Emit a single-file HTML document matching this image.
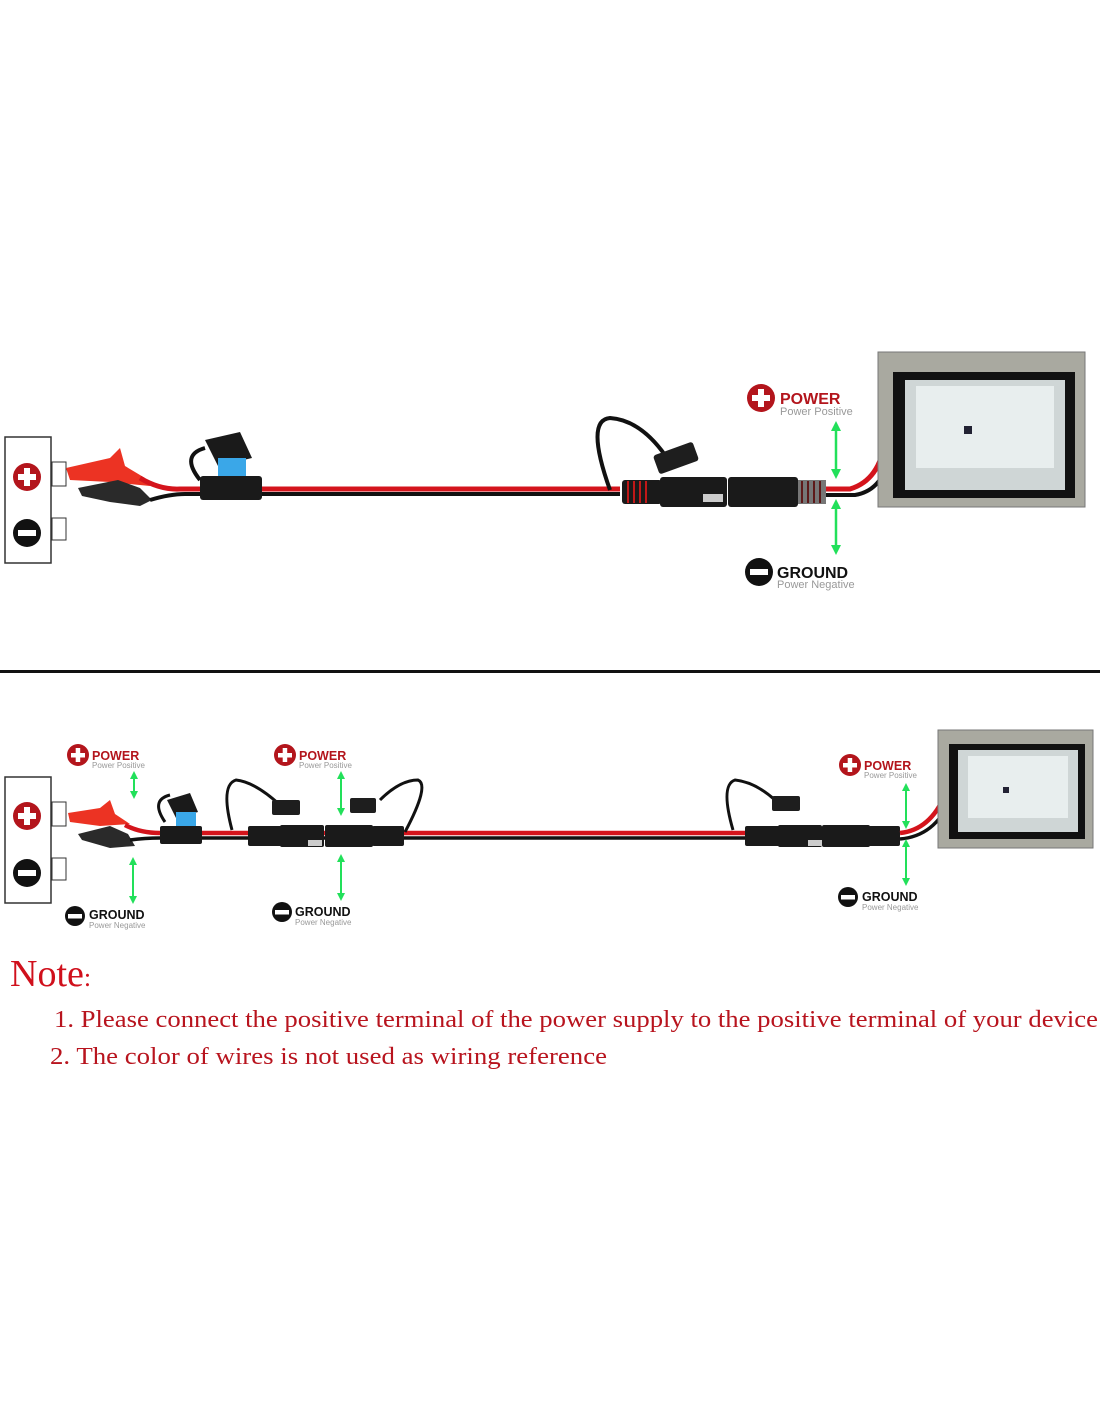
<!DOCTYPE html>
<html><head><meta charset="utf-8"><style>
html,body{margin:0;padding:0;background:#fff}
svg{display:block}
</style></head><body>
<svg width="1100" height="1422" viewBox="0 0 1100 1422" xmlns="http://www.w3.org/2000/svg">
<defs>
<marker id="ah" viewBox="0 0 10 10" refX="5" refY="5" markerWidth="4" markerHeight="4" orient="auto-start-reverse"><path d="M0,0 L10,5 L0,10 z" fill="#22e05a"/></marker>
</defs>
<rect width="1100" height="1422" fill="#fff"/>

<!-- ========== TOP ========== -->
<rect x="5" y="437" width="46" height="126" fill="#fff" stroke="#333" stroke-width="1.5"/>
<circle cx="27" cy="477" r="14" fill="#b3151c"/><rect x="18" y="474" width="18" height="6" fill="#fff"/><rect x="24" y="468" width="6" height="18" fill="#fff"/>
<circle cx="27" cy="533" r="14" fill="#111"/><rect x="18" y="530" width="18" height="6" fill="#fff"/>
<rect x="52" y="462" width="14" height="24" fill="#fff" stroke="#333"/>
<rect x="52" y="518" width="14" height="22" fill="#fff" stroke="#333"/>
<!-- clips -->
<path d="M66,468 L110,458 L120,448 L125,466 L145,478 L150,486 L110,482 L70,480 z" fill="#ec3323"/>
<path d="M78,488 L118,480 L140,488 L152,500 L140,506 L110,502 L82,496 z" fill="#2a2a2a"/>
<!-- wires -->
<path d="M140,478 Q160,490 180,489 L620,489" stroke="#d4141c" stroke-width="5" fill="none"/>
<path d="M150,500 Q170,494 185,494 L620,494" stroke="#111" stroke-width="4" fill="none"/>
<!-- fuse -->
<path d="M200,480 Q180,455 205,448" stroke="#111" stroke-width="4" fill="none"/>
<path d="M205,440 L240,432 L252,458 L218,466 z" fill="#1a1a1a"/>
<rect x="218" y="458" width="28" height="20" fill="#3aa7e8"/>
<rect x="200" y="476" width="62" height="24" rx="3" fill="#1a1a1a"/>
<!-- SAE connector 1 -->
<path d="M610,490 Q585,420 610,418 Q640,420 665,455" stroke="#111" stroke-width="4" fill="none"/>
<rect x="655" y="448" width="42" height="20" rx="3" fill="#1e1e1e" transform="rotate(-20 676 458)"/>
<rect x="622" y="480" width="40" height="24" rx="3" fill="#1a1a1a"/>
<g stroke="#c01818" stroke-width="2"><line x1="628" y1="481" x2="628" y2="503"/><line x1="634" y1="481" x2="634" y2="503"/><line x1="640" y1="481" x2="640" y2="503"/><line x1="646" y1="481" x2="646" y2="503"/></g>
<rect x="660" y="477" width="67" height="30" rx="3" fill="#1a1a1a"/>
<rect x="703" y="494" width="20" height="8" fill="#ccc"/>
<rect x="735" y="480" width="16" height="8" fill="#ccc"/>
<rect x="728" y="477" width="70" height="30" rx="3" fill="#1a1a1a"/>
<g stroke="#c01818" stroke-width="2"><line x1="802" y1="481" x2="802" y2="503"/><line x1="808" y1="481" x2="808" y2="503"/><line x1="814" y1="481" x2="814" y2="503"/><line x1="820" y1="481" x2="820" y2="503"/></g>
<rect x="796" y="480" width="30" height="24" fill="#1a1a1a" opacity="0.6"/>
<path d="M826,489 L850,489 Q880,480 885,440" stroke="#d4141c" stroke-width="5" fill="none"/>
<path d="M826,495 L855,495 Q885,490 890,450" stroke="#111" stroke-width="4" fill="none"/>
<!-- lamp -->
<rect x="878" y="352" width="207" height="155" fill="#a9a9a0" stroke="#777"/>
<rect x="893" y="372" width="182" height="126" fill="#111"/>
<rect x="905" y="380" width="160" height="110" fill="#cfd6d6"/>
<rect x="916" y="386" width="138" height="82" fill="#e8eeee"/>
<rect x="964" y="426" width="8" height="8" fill="#223"/>
<!-- labels top -->
<circle cx="761" cy="398" r="14" fill="#b3151c"/><rect x="752" y="395" width="18" height="6" fill="#fff"/><rect x="758" y="389" width="6" height="18" fill="#fff"/>
<text x="780" y="404" font-family="Liberation Sans,sans-serif" font-weight="bold" font-size="16" fill="#b3151c">POWER</text>
<text x="780" y="415" font-family="Liberation Sans,sans-serif" font-size="11" fill="#999">Power Positive</text>
<line x1="836" y1="426" x2="836" y2="474" stroke="#22e05a" stroke-width="2.5" marker-start="url(#ah)" marker-end="url(#ah)"/>
<line x1="836" y1="504" x2="836" y2="550" stroke="#22e05a" stroke-width="2.5" marker-start="url(#ah)" marker-end="url(#ah)"/>
<circle cx="759" cy="572" r="14" fill="#111"/><rect x="750" y="569" width="18" height="6" fill="#fff"/>
<text x="777" y="578" font-family="Liberation Sans,sans-serif" font-weight="bold" font-size="16" fill="#111">GROUND</text>
<text x="777" y="588" font-family="Liberation Sans,sans-serif" font-size="11" fill="#999">Power Negative</text>

<rect x="0" y="670" width="1100" height="3" fill="#111"/>

<!-- ========== BOTTOM ========== -->
<rect x="5" y="777" width="46" height="126" fill="#fff" stroke="#333" stroke-width="1.5"/>
<circle cx="27" cy="816" r="14" fill="#b3151c"/><rect x="18" y="813" width="18" height="6" fill="#fff"/><rect x="24" y="807" width="6" height="18" fill="#fff"/>
<circle cx="27" cy="873" r="14" fill="#111"/><rect x="18" y="870" width="18" height="6" fill="#fff"/>
<rect x="52" y="802" width="14" height="24" fill="#fff" stroke="#333"/>
<rect x="52" y="858" width="14" height="22" fill="#fff" stroke="#333"/>
<path d="M68,813 L100,808 L110,800 L115,814 L130,824 L100,826 L70,822 z" fill="#ec3323"/>
<path d="M78,834 L110,826 L128,834 L135,846 L110,848 L82,840 z" fill="#2a2a2a"/>
<path d="M125,825 Q140,833 160,833 L890,833" stroke="#d4141c" stroke-width="4.5" fill="none"/>
<path d="M130,840 Q145,838 160,838 L890,838" stroke="#111" stroke-width="3.5" fill="none"/>
<!-- fuse -->
<path d="M165,822 Q150,800 170,795" stroke="#111" stroke-width="3" fill="none"/>
<path d="M167,800 L190,793 L198,812 L176,818 z" fill="#1a1a1a"/>
<rect x="176" y="812" width="20" height="14" fill="#3aa7e8"/>
<rect x="160" y="826" width="42" height="18" rx="2" fill="#1a1a1a"/>
<!-- connectors pair 1 -->
<path d="M232,830 Q220,785 236,780 Q255,782 280,805" stroke="#111" stroke-width="3" fill="none"/>
<rect x="272" y="800" width="28" height="15" rx="2" fill="#1e1e1e"/>
<rect x="248" y="826" width="35" height="20" rx="2" fill="#1a1a1a"/>
<rect x="280" y="825" width="44" height="22" rx="2" fill="#1a1a1a"/>
<rect x="308" y="840" width="14" height="6" fill="#ccc"/>
<rect x="328" y="826" width="14" height="6" fill="#ccc"/>
<rect x="325" y="825" width="48" height="22" rx="2" fill="#1a1a1a"/>
<rect x="372" y="826" width="32" height="20" rx="2" fill="#1a1a1a"/>
<path d="M405,832 Q430,785 418,780 Q400,780 380,800" stroke="#111" stroke-width="3" fill="none"/>
<rect x="350" y="798" width="26" height="15" rx="2" fill="#1e1e1e"/>
<!-- connectors pair 2 -->
<path d="M733,830 Q720,785 735,780 Q755,782 775,800" stroke="#111" stroke-width="3" fill="none"/>
<rect x="772" y="796" width="28" height="15" rx="2" fill="#1e1e1e"/>
<rect x="745" y="826" width="35" height="20" rx="2" fill="#1a1a1a"/>
<rect x="778" y="825" width="44" height="22" rx="2" fill="#1a1a1a"/>
<rect x="808" y="840" width="14" height="6" fill="#ccc"/>
<rect x="826" y="826" width="14" height="6" fill="#ccc"/>
<rect x="822" y="825" width="48" height="22" rx="2" fill="#1a1a1a"/>
<rect x="868" y="826" width="32" height="20" rx="2" fill="#1a1a1a"/>
<path d="M900,833 Q930,830 945,795" stroke="#d4141c" stroke-width="4.5" fill="none"/>
<path d="M900,839 Q935,836 950,800" stroke="#111" stroke-width="3.5" fill="none"/>
<!-- lamp -->
<rect x="938" y="730" width="155" height="118" fill="#a9a9a0" stroke="#777"/>
<rect x="949" y="744" width="136" height="95" fill="#111"/>
<rect x="958" y="750" width="120" height="82" fill="#cfd6d6"/>
<rect x="968" y="756" width="100" height="62" fill="#e8eeee"/>
<rect x="1003" y="787" width="6" height="6" fill="#223"/>
<!-- labels bottom -->
<g font-family="Liberation Sans,sans-serif">
<circle cx="78" cy="755" r="11" fill="#b3151c"/><rect x="71" y="753" width="14" height="4.5" fill="#fff"/><rect x="75.7" y="748" width="4.5" height="14" fill="#fff"/>
<text x="92" y="760" font-weight="bold" font-size="12.5" fill="#b3151c">POWER</text>
<text x="92" y="768" font-size="8" fill="#999">Power Positive</text>
<circle cx="75" cy="916" r="10" fill="#111"/><rect x="68" y="914" width="14" height="4.5" fill="#fff"/>
<text x="89" y="919" font-weight="bold" font-size="12.5" fill="#111">GROUND</text>
<text x="89" y="928" font-size="8" fill="#999">Power Negative</text>

<circle cx="285" cy="755" r="11" fill="#b3151c"/><rect x="278" y="753" width="14" height="4.5" fill="#fff"/><rect x="282.7" y="748" width="4.5" height="14" fill="#fff"/>
<text x="299" y="760" font-weight="bold" font-size="12.5" fill="#b3151c">POWER</text>
<text x="299" y="768" font-size="8" fill="#999">Power Positive</text>
<circle cx="282" cy="912" r="10" fill="#111"/><rect x="275" y="910" width="14" height="4.5" fill="#fff"/>
<text x="295" y="916" font-weight="bold" font-size="12.5" fill="#111">GROUND</text>
<text x="295" y="925" font-size="8" fill="#999">Power Negative</text>

<circle cx="850" cy="765" r="11" fill="#b3151c"/><rect x="843" y="763" width="14" height="4.5" fill="#fff"/><rect x="847.7" y="758" width="4.5" height="14" fill="#fff"/>
<text x="864" y="770" font-weight="bold" font-size="12.5" fill="#b3151c">POWER</text>
<text x="864" y="778" font-size="8" fill="#999">Power Positive</text>
<circle cx="848" cy="897" r="10" fill="#111"/><rect x="841" y="895" width="14" height="4.5" fill="#fff"/>
<text x="862" y="901" font-weight="bold" font-size="12.5" fill="#111">GROUND</text>
<text x="862" y="910" font-size="8" fill="#999">Power Negative</text>
</g>
<g stroke="#22e05a" stroke-width="2" fill="none">
<line x1="134" y1="775" x2="134" y2="795" marker-start="url(#ah)" marker-end="url(#ah)"/>
<line x1="133" y1="861" x2="133" y2="900" marker-start="url(#ah)" marker-end="url(#ah)"/>
<line x1="341" y1="775" x2="341" y2="812" marker-start="url(#ah)" marker-end="url(#ah)"/>
<line x1="341" y1="858" x2="341" y2="897" marker-start="url(#ah)" marker-end="url(#ah)"/>
<line x1="906" y1="787" x2="906" y2="825" marker-start="url(#ah)" marker-end="url(#ah)"/>
<line x1="906" y1="843" x2="906" y2="882" marker-start="url(#ah)" marker-end="url(#ah)"/>
</g>

<!-- NOTE -->
<text x="10" y="986" font-family="Liberation Serif,serif" font-size="38" fill="#d0101c">Note<tspan font-size="26">:</tspan></text>
<text x="54" y="1027" font-family="Liberation Serif,serif" font-size="24" fill="#b8141e" textLength="1044" lengthAdjust="spacingAndGlyphs">1. Please connect the positive terminal of the power supply to the positive terminal of your device</text>
<text x="50" y="1064" font-family="Liberation Serif,serif" font-size="24" fill="#b8141e" textLength="557" lengthAdjust="spacingAndGlyphs">2. The color of wires is not used as wiring reference</text>
</svg>
</body></html>
